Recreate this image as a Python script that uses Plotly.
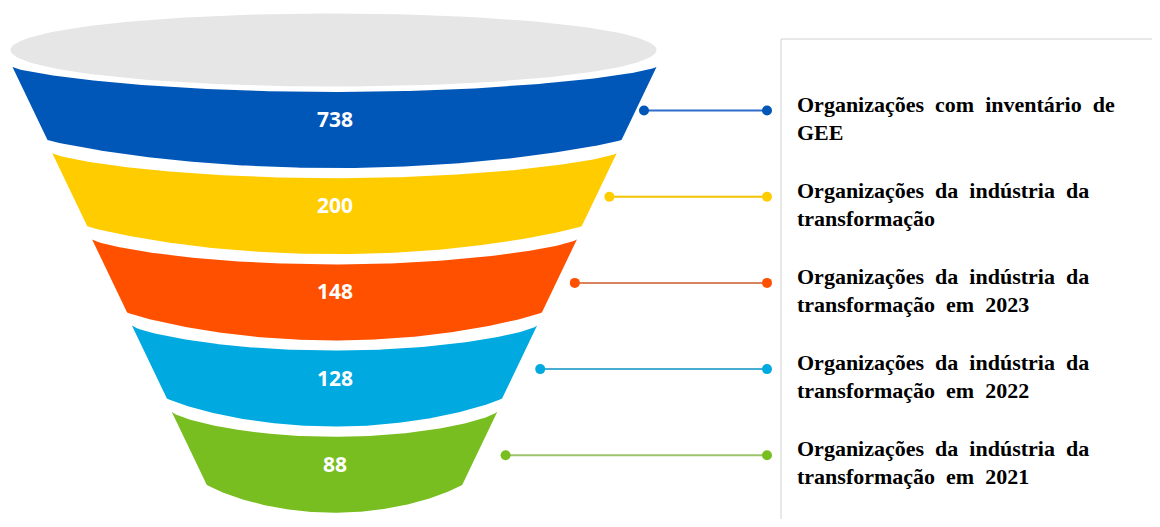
import numpy as np
import plotly.graph_objects as go

# ---- data ----
values = [738, 200, 148, 128, 88]
labels = [
    ["Organizações com inventário de", "GEE"],
    ["Organizações da indústria da", "transformação"],
    ["Organizações da indústria da", "transformação em 2023"],
    ["Organizações da indústria da", "transformação em 2022"],
    ["Organizações da indústria da", "transformação em 2021"],
]
band_colors = ["#0057B8", "#FFCC00", "#FF5000", "#00A9E0", "#78BE20"]
line_colors = ["#2E6DCC", "#F2C300", "#D9825E", "#48ADD3", "#9DC36C"]

# page offset caused by the default body margin (8px)
OFF = 8
W, H = 1160 - 2 * OFF, 527 - 2 * OFF
fig = go.Figure()

# top ellipse (funnel mouth)
t = np.linspace(0, 2 * np.pi, 240)
fig.add_trace(go.Scatter(x=333.5 + 323 * np.cos(t), y=50 + 36.5 * np.sin(t),
                         fill="toself", fillcolor="#E6E6E6", mode="lines",
                         line=dict(width=0, color="#E6E6E6"), hoverinfo="skip"))

xc = 334.5
for i, (v, lab, bc, lc) in enumerate(zip(values, labels, band_colors, line_colors)):
    yt = 67 + 86.2 * i
    yb = yt + 73
    hwt = 322 - 39.8 * i
    hwb = hwt - 35
    st, sb = 25, 28
    u = np.linspace(-1, 1, 160)
    xt = xc + hwt * u
    ytop = yt + st * (1 - u ** 2) ** 0.75
    ub = u[::-1]
    xb = xc + hwb * ub
    ybot = yb + sb * (1 - ub ** 2) ** 0.9
    xs = np.concatenate([xt, xb, [xt[0]]])
    ys = np.concatenate([ytop, ybot, [ytop[0]]])
    fig.add_trace(go.Scatter(x=xs, y=ys, fill="toself", fillcolor=bc, mode="lines",
                             line=dict(width=0, color=bc), hoverinfo="skip"))
    # value label
    fig.add_annotation(x=xc, y=yt + 52, text=f"<b>{v}</b>", showarrow=False,
                       font=dict(family="Noto Sans", size=21, color="white"),
                       xanchor="center", yanchor="middle")
    # connector
    yc = yt + 43.5
    x0 = 644 - 34.6 * i
    fig.add_trace(go.Scatter(x=[x0, 767], y=[yc, yc], mode="lines",
                             line=dict(color=lc, width=2), hoverinfo="skip"))
    fig.add_trace(go.Scatter(x=[x0, 767], y=[yc, yc], mode="markers",
                             marker=dict(color=bc, size=10), hoverinfo="skip"))
    # category label (wide word spacing as in the reference)
    for j, line in enumerate(lab):
        fig.add_annotation(x=795, y=yt + 37 + 28 * j,
                           text="<b>" + line.replace(" ", "\u00a0 ") + "</b>",
                           showarrow=False,
                           font=dict(family="Liberation Serif", size=22, color="black"),
                           xanchor="left", yanchor="middle", align="left")

# label box
fig.add_shape(type="rect", x0=781, y0=39, x1=1200, y1=600,
              line=dict(color="#D0D0D0", width=1), fillcolor="rgba(0,0,0,0)")

fig.update_layout(
    width=W, height=H, margin=dict(l=0, r=0, t=0, b=0),
    paper_bgcolor="white", plot_bgcolor="white", showlegend=False,
    xaxis=dict(range=[OFF, OFF + W], visible=False, fixedrange=True),
    yaxis=dict(range=[OFF + H, OFF], visible=False, fixedrange=True),
)
fig.write_html("out.html")
